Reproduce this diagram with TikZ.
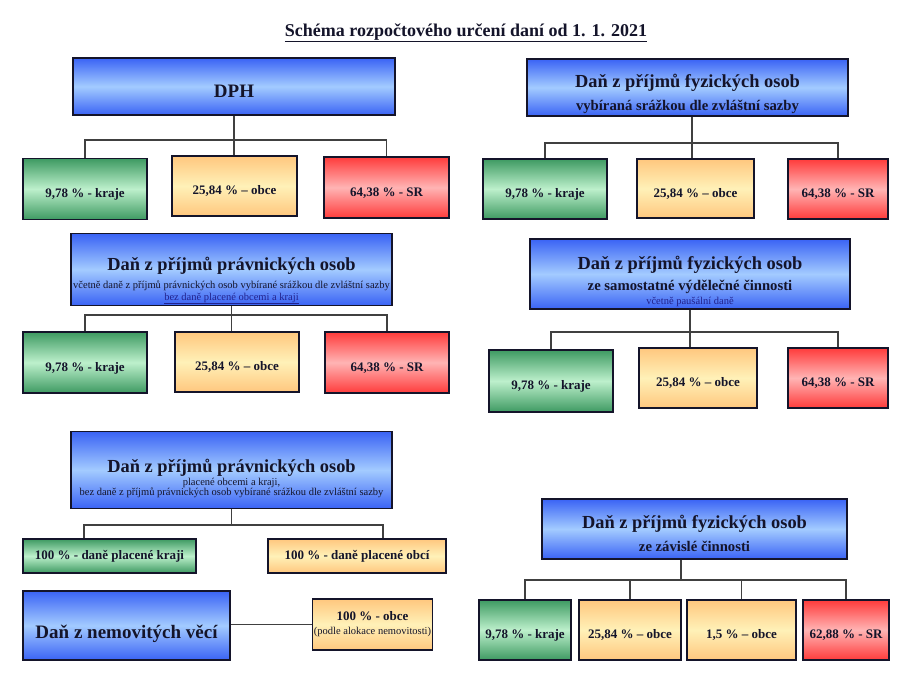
\documentclass[tikz,border=0pt]{standalone}
\usepackage{fontspec}
\setmainfont{Liberation Serif}
\usetikzlibrary{positioning}
\definecolor{BlueEdge}{HTML}{3A63F5}
\definecolor{BlueMid}{HTML}{A3CBFF}
\definecolor{GreenEdge}{HTML}{3E9A62}
\definecolor{GreenMid}{HTML}{BDF0CC}
\definecolor{YellowEdge}{HTML}{FFC77E}
\definecolor{YellowMid}{HTML}{FFF1B8}
\definecolor{RedEdge}{HTML}{FF3B3B}
\definecolor{RedMid}{HTML}{FFB4B4}
\definecolor{Ink}{HTML}{14142A}
\definecolor{NoteBlue}{HTML}{22228C}
\tikzset{
  taxbox/.style={draw=Ink, line width=1.1pt, top color=BlueEdge, bottom color=BlueEdge, middle color=BlueMid, align=center, text=Ink, inner sep=1pt, font=\bfseries\fontsize{18.4}{20}\selectfont},
  sharebox/.style={draw=Ink, line width=1.1pt, align=center, text=Ink, font=\bfseries\fontsize{13}{15.6}\selectfont, inner sep=1pt},
  lowtext/.style={text height=20pt, text depth=3pt},
  krajebox/.style={sharebox, top color=GreenEdge, bottom color=GreenEdge, middle color=GreenMid},
  obcebox/.style={sharebox, top color=YellowEdge, bottom color=YellowEdge, middle color=YellowMid},
  srbox/.style={sharebox, top color=RedEdge, bottom color=RedEdge, middle color=RedMid},
  link/.style={draw=black!75, line width=1.1pt},
}
\newcommand{\subbold}[1]{{\bfseries\fontsize{14.7}{17}\selectfont #1}}
\newcommand{\subnote}[1]{{\mdseries\fontsize{10.5}{12}\selectfont #1}}
\begin{document}
\begin{tikzpicture}[x=1pt, y=-1pt]
\useasboundingbox[fill=white] (0,0) rectangle (921,677);
\node[font=\bfseries\fontsize{18}{21}\selectfont, text=Ink] (title) at (466,33) {\underline{Schéma rozpočtového určení daní od 1. 1. 2021}};

% DPH
\node[taxbox, minimum width=322, minimum height=57, text height=22pt, text depth=0pt] (dph) at (234,86.5) {\fontsize{19}{21}\selectfont DPH};
\node[krajebox, lowtext, minimum width=124, minimum height=61] (dphk) at (85,189) {9,78 \% - kraje};
\node[obcebox, lowtext, minimum width=125, minimum height=60] (dpho) at (234.5,186) {25,84 \% -- obce};
\node[srbox, lowtext, minimum width=125, minimum height=61] (dphs) at (386.5,187.5) {64,38 \% - SR};
\coordinate (dphbus) at (234,140);
\draw[link] (dph.south) -- (dphbus);
\draw[link] (dphk.north) |- (dphbus) -| (dphs.north);
\draw[link] (dphbus) -- (dphbus |- dpho.north);

% DPFO srazkou
\node[taxbox, minimum width=321, minimum height=57] (fos) at (687.5,87.5) {\rule{0pt}{26pt}Daň z příjmů fyzických osob\\[3pt]\subbold{vybíraná srážkou dle zvláštní sazby}};
\node[krajebox, lowtext, minimum width=124, minimum height=60] (fosk) at (545,189) {9,78 \% - kraje};
\node[obcebox, lowtext, minimum width=117, minimum height=59] (foso) at (695.5,188.5) {25,84 \% -- obce};
\node[srbox, lowtext, minimum width=100, minimum height=60] (foss) at (838,189) {64,38 \% - SR};
\coordinate (fosbus) at (692,143);
\draw[link] (fos.south -| fosbus) -- (fosbus);
\draw[link] (fosk.north) |- (fosbus) -| (foss.north);
\draw[link] (fosbus) -- (fosbus |- foso.north);

% DPPO
\node[taxbox, minimum width=321, minimum height=71] (ppo) at (231.5,269.5) {\rule{0pt}{35.5pt}Daň z příjmů právnických osob\\[-2.2pt]\subnote{včetně daně z příjmů právnických osob vybírané srážkou dle zvláštní sazby}\\[-8pt]\textcolor{NoteBlue}{\subnote{\underline{bez daně placené obcemi a kraji}}}};
\node[krajebox, lowtext, minimum width=124, minimum height=61] (ppok) at (85,362.5) {9,78 \% - kraje};
\node[obcebox, lowtext, minimum width=124, minimum height=60] (ppoo) at (237,362) {25,84 \% -- obce};
\node[srbox, lowtext, minimum width=124, minimum height=61] (ppos) at (387,362.5) {64,38 \% - SR};
\coordinate (ppobus) at (231.5,315);
\draw[link] (ppo.south) -- (ppobus);
\draw[link] (ppok.north) |- (ppobus) -| (ppos.north);
\draw[link] (ppobus) -- (ppobus |- ppoo.north);

% DPFO samostatna cinnost
\node[taxbox, minimum width=320, minimum height=70] (fsv) at (690,274) {\rule{0pt}{28pt}Daň z příjmů fyzických osob\\[1pt]\subbold{ze samostatné výdělečné činnosti}\\[-6.3pt]\textcolor{NoteBlue}{\subnote{včetně paušální daně}}};
\node[krajebox, lowtext, minimum width=124, minimum height=62] (fsvk) at (551,381) {9,78 \% - kraje};
\node[obcebox, lowtext, minimum width=118, minimum height=60] (fsvo) at (698,378) {25,84 \% -- obce};
\node[srbox, lowtext, minimum width=100, minimum height=60] (fsvs) at (838,378) {64,38 \% - SR};
\coordinate (fsvbus) at (690,332);
\draw[link] (fsv.south) -- (fsvbus);
\draw[link] (fsvk.north) |- (fsvbus) -| (fsvs.north);
\draw[link] (fsvbus) -- (fsvbus |- fsvo.north);

% DPPO placena obcemi a kraji
\node[taxbox, minimum width=321, minimum height=77] (ppk) at (231.5,470) {\rule{0pt}{30.7pt}Daň z příjmů právnických osob\\[-7pt]\subnote{placené obcemi a kraji,}\\[-9.7pt]\subnote{bez daně z příjmů právnických osob vybírané srážkou dle zvláštní sazby}};
\node[krajebox, minimum width=173, minimum height=34] (ppkk) at (109.5,556) {100 \% - daně placené kraji};
\node[obcebox, minimum width=178, minimum height=34] (ppko) at (357,556) {100 \% - daně placené obcí};
\coordinate (ppkbus) at (231.5,525);
\draw[link] (ppk.south) -- (ppkbus);
\draw[link] ([xshift=-25.5]ppkk.north) |- (ppkbus) -| ([xshift=26]ppko.north);

% dan z nemovitosti
\node[taxbox, minimum width=207, minimum height=69, text height=29.6pt, text depth=4pt] (dnv) at (126.5,625.5) {\fontsize{19}{21}\selectfont Daň z nemovitých věcí};
\node[obcebox, minimum width=119, minimum height=51] (dnvo) at (372.5,624.5) {100 \% - obce\\[-1.4pt]\subnote{(podle alokace nemovitosti)}};
\draw[link] (dnv.east |- dnvo.west) -- (dnvo.west);

% DPFO zavisla cinnost
\node[taxbox, minimum width=305, minimum height=60] (fzc) at (694.5,529) {\rule{0pt}{23pt}Daň z příjmů fyzických osob\\[3pt]\subbold{ze závislé činnosti}};
\node[krajebox, lowtext, minimum width=92, minimum height=60] (fzck) at (525,630) {9,78 \% - kraje};
\node[obcebox, lowtext, minimum width=102, minimum height=60] (fzco) at (630,630) {25,84 \% -- obce};
\node[obcebox, lowtext, minimum width=109, minimum height=60] (fzcp) at (741.5,630) {1,5 \% -- obce};
\node[srbox, lowtext, minimum width=86, minimum height=60] (fzcs) at (846,630) {62,88 \% - SR};
\coordinate (fzcbus) at (681,580);
\draw[link] (fzc.south -| fzcbus) -- (fzcbus);
\draw[link] (fzck.north) |- (fzcbus) -| (fzcs.north);
\draw[link] (fzco.north) -- (fzco.north |- fzcbus);
\draw[link] (fzcp.north) -- (fzcp.north |- fzcbus);
\end{tikzpicture}
\end{document}
